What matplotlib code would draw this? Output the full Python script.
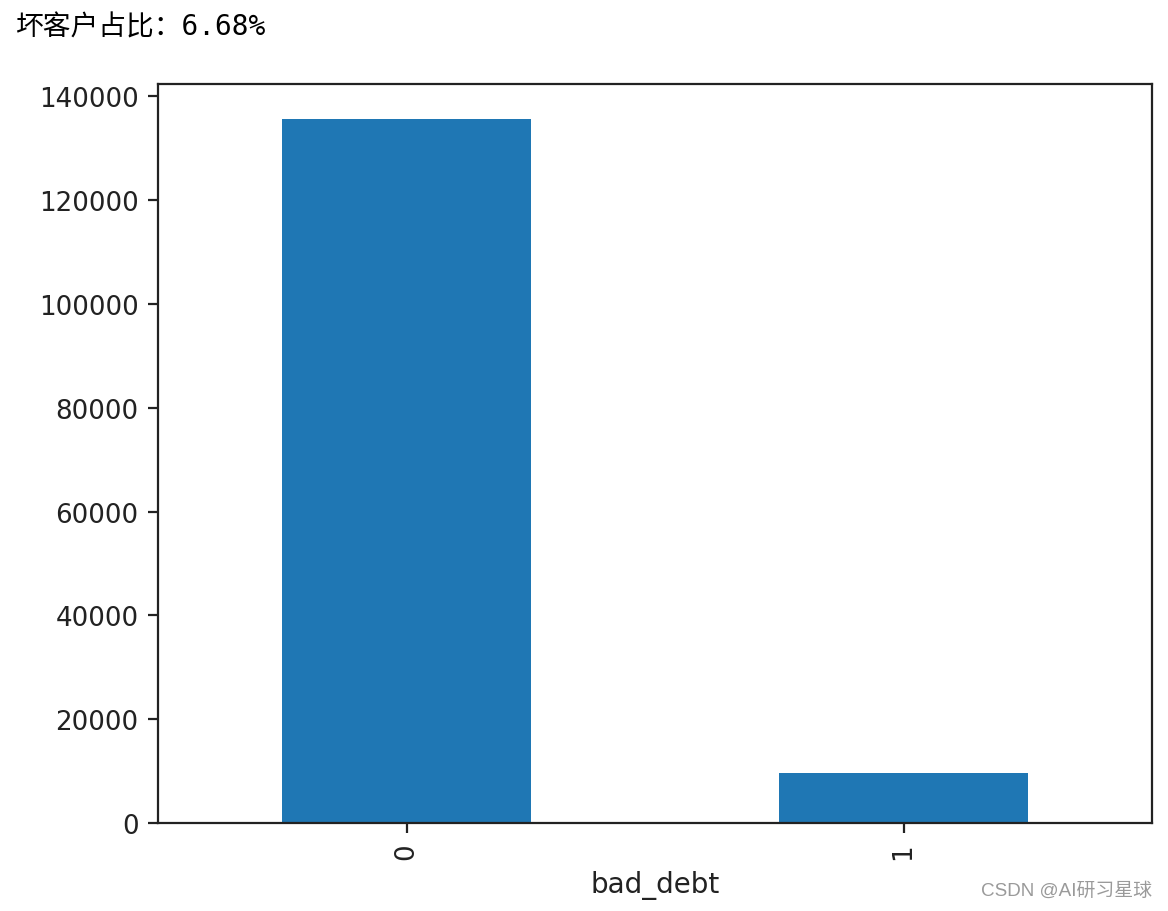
import pandas as pd
import matplotlib
matplotlib.use('Agg')
import matplotlib.pyplot as plt

# value counts of the target column
labels = ['0', '1']
counts = [135570, 9700]
bad_ratio = '6.68%'

s = pd.Series(counts, index=pd.Index(labels, name='bad_debt'))

fig = plt.figure(figsize=(5.84, 4.56), dpi=200)
ax = fig.add_axes([0.1353, 0.0965, 0.851, 0.8103])
s.plot(kind='bar', ax=ax, color='#1f77b4')
ax.set_xlabel('bad_debt')
ax.tick_params(labelsize=9.4)
ax.xaxis.label.set_color('#222222')
ax.tick_params(labelcolor='#222222', color='#222222')
for sp in ax.spines.values():
    sp.set_color('#222222')

# printed output above the chart (notebook style)
fig.text(0.013, 0.9616, '坏客户占比：' + bad_ratio, va='baseline', ha='left',
         fontsize=10, family=['DejaVu Sans Mono', 'Noto Sans CJK SC'])

# watermark
fig.text(0.986, 0.018, 'CSDN @AI研习星球', ha='right', va='baseline',
         fontsize=6.8, color='#9a9a9a',
         family=['Liberation Sans', 'Noto Sans CJK SC'])

fig.savefig('out.png', dpi=200)
